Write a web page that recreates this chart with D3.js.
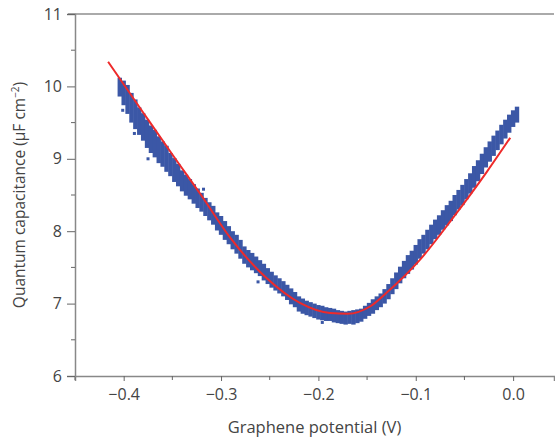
<!DOCTYPE html>
<html>
<head>
<meta charset="utf-8">
<script src="https://cdn.jsdelivr.net/npm/d3@7"></script>
<style>
  body { margin: 0; background: #fff; }
  svg text { font-family: "Open Sans", "Liberation Sans", sans-serif; fill: #444; }
</style>
</head>
<body>
<div id="chart"></div>
<script>
// measured band of the blue data: potential (V), lower and upper edge (uF cm-2)
var potential = [-0.404,-0.400,-0.396,-0.392,-0.388,-0.384,-0.380,-0.376,-0.372,-0.368,-0.364,-0.360,-0.356,-0.352,-0.348,-0.344,-0.340,-0.336,-0.332,-0.328,-0.324,-0.320,-0.316,-0.312,-0.308,-0.304,-0.300,-0.296,-0.292,-0.288,-0.284,-0.280,-0.276,-0.272,-0.268,-0.264,-0.260,-0.256,-0.252,-0.248,-0.244,-0.240,-0.236,-0.232,-0.228,-0.224,-0.220,-0.216,-0.212,-0.208,-0.204,-0.200,-0.196,-0.192,-0.188,-0.184,-0.180,-0.176,-0.172,-0.168,-0.164,-0.160,-0.156,-0.152,-0.148,-0.144,-0.140,-0.136,-0.132,-0.128,-0.124,-0.120,-0.116,-0.112,-0.108,-0.104,-0.100,-0.096,-0.092,-0.088,-0.084,-0.080,-0.076,-0.072,-0.068,-0.064,-0.060,-0.056,-0.052,-0.048,-0.044,-0.040,-0.036,-0.032,-0.028,-0.024,-0.020,-0.016,-0.012,-0.008,-0.004,0.000,0.004];
var capLow = [9.86,9.74,9.62,9.50,9.41,9.33,9.25,9.15,9.08,9.02,8.94,8.89,8.82,8.76,8.68,8.62,8.55,8.49,8.44,8.38,8.32,8.27,8.21,8.15,8.09,8.01,7.95,7.88,7.82,7.75,7.69,7.62,7.55,7.50,7.46,7.42,7.38,7.32,7.27,7.22,7.18,7.14,7.10,7.05,6.99,6.95,6.89,6.86,6.84,6.82,6.80,6.78,6.77,6.76,6.76,6.74,6.73,6.72,6.71,6.72,6.71,6.73,6.75,6.79,6.83,6.86,6.91,6.95,7.00,7.06,7.13,7.20,7.28,7.35,7.41,7.47,7.54,7.62,7.69,7.75,7.82,7.89,7.95,8.02,8.08,8.14,8.22,8.30,8.36,8.44,8.52,8.60,8.69,8.79,8.88,8.96,9.04,9.12,9.20,9.28,9.36,9.44,9.50];
var capHigh = [10.12,10.08,10.02,9.91,9.82,9.71,9.63,9.54,9.46,9.40,9.31,9.24,9.18,9.08,9.01,8.93,8.84,8.78,8.72,8.65,8.59,8.53,8.46,8.40,8.35,8.26,8.21,8.14,8.07,8.00,7.95,7.88,7.79,7.74,7.70,7.65,7.60,7.55,7.49,7.44,7.39,7.35,7.31,7.26,7.21,7.16,7.10,7.07,7.04,7.02,7.00,6.98,6.97,6.95,6.94,6.93,6.91,6.90,6.89,6.90,6.91,6.92,6.93,6.97,7.01,7.06,7.10,7.14,7.20,7.27,7.35,7.43,7.51,7.59,7.67,7.73,7.81,7.89,7.95,8.02,8.09,8.16,8.22,8.29,8.36,8.42,8.50,8.57,8.64,8.72,8.80,8.90,8.98,9.07,9.16,9.24,9.32,9.39,9.47,9.54,9.61,9.67,9.72];

// a few stray blue points outside the band
var strayX = [-0.401, -0.389, -0.375, -0.318, -0.262, -0.196];
var strayY = [9.67, 9.35, 9.00, 8.58, 7.30, 6.74];

// red fitted curve
var fitX = [-0.416, -0.380, -0.350, -0.320, -0.290, -0.253, -0.219, -0.188, -0.170, -0.147, -0.130, -0.096, -0.062, -0.027, -0.003];
var fitY = [10.34, 9.64, 9.06, 8.49, 7.90, 7.35, 7.01, 6.87, 6.86, 6.96, 7.15, 7.60, 8.18, 8.82, 9.29];

var xTicks = [-0.4, -0.3, -0.2, -0.1, 0.0];
var xMinor = [-0.45, -0.35, -0.25, -0.15, -0.05];
var yTicks = [6, 7, 8, 9, 10, 11];
var yMinor = [6.5, 7.5, 8.5, 9.5, 10.5];

var width = 555, height = 441;
var margin = {left: 75, right: 1, top: 14, bottom: 65};

var svg = d3.select("#chart").append("svg")
  .attr("width", width)
  .attr("height", height);

var x = d3.scaleLinear().domain([-0.45, 0.042]).range([margin.left, width - margin.right]);
var y = d3.scaleLinear().domain([6, 11]).range([height - margin.bottom, margin.top]);

// top frame line
svg.append("line")
  .attr("x1", margin.left - 7).attr("x2", width - margin.right)
  .attr("y1", y(11)).attr("y2", y(11))
  .style("stroke", "#aaa").style("stroke-width", 2);

// x axis
var xAxis = svg.append("g")
  .attr("transform", "translate(0," + y(6) + ")")
  .call(d3.axisBottom(x).tickValues(xTicks).tickSize(5).tickPadding(8).tickFormat(d3.format(".1f")));
xAxis.append("g").selectAll("line")
  .data(xMinor).enter().append("line")
  .attr("x1", function(d){ return x(d); }).attr("x2", function(d){ return x(d); })
  .attr("y1", 0).attr("y2", 4);

// y axis
var yAxis = svg.append("g")
  .attr("transform", "translate(" + margin.left + ",0)")
  .call(d3.axisLeft(y).tickValues(yTicks).tickSize(8).tickPadding(5).tickFormat(d3.format("d")));
yAxis.append("g").selectAll("line")
  .data(yMinor).enter().append("line")
  .attr("x1", 0).attr("x2", -4)
  .attr("y1", function(d){ return y(d); }).attr("y2", function(d){ return y(d); });

svg.selectAll(".domain").style("stroke", "#888").style("stroke-width", 1.5);
xAxis.selectAll("line").style("stroke", "#666");
yAxis.selectAll("line").style("stroke", "#666");
svg.selectAll(".tick text").style("font-size", "16px").style("fill", "#444");

// blue data band
var band = potential.map(function(p, i){ return {p: p, lo: capLow[i], hi: capHigh[i]}; });
svg.append("g").selectAll("rect")
  .data(band).enter().append("rect")
  .attr("x", function(d){ return x(d.p) - 2.2; })
  .attr("width", 4.4)
  .attr("y", function(d){ return y(d.hi); })
  .attr("height", function(d){ return y(d.lo) - y(d.hi); })
  .style("fill", "#3b57a6");

svg.append("g").selectAll("rect")
  .data(strayX).enter().append("rect")
  .attr("x", function(d){ return x(d) - 1.5; })
  .attr("y", function(d, i){ return y(strayY[i]) - 1.5; })
  .attr("width", 3).attr("height", 3)
  .style("fill", "#3b57a6");

// red fit
var line = d3.line()
  .x(function(d){ return x(d[0]); })
  .y(function(d){ return y(d[1]); })
  .curve(d3.curveMonotoneX);
svg.append("path")
  .datum(fitX.map(function(v, i){ return [v, fitY[i]]; }))
  .attr("d", line)
  .style("fill", "none")
  .style("stroke", "#ee2a2a")
  .style("stroke-width", 2);

// axis titles
svg.append("text")
  .attr("x", (x.range()[0] + x.range()[1]) / 2)
  .attr("y", 433)
  .attr("text-anchor", "middle")
  .style("font-size", "16.5px")
  .text("Graphene potential (V)");

var ylab = svg.append("text")
  .attr("transform", "translate(25," + y(8.5) + ") rotate(-90)")
  .attr("text-anchor", "middle")
  .style("font-size", "15.5px");
ylab.append("tspan").text("Quantum capacitance (μF cm");
ylab.append("tspan").attr("dy", -6).style("font-size", "10px").text("−2");
ylab.append("tspan").attr("dy", 6).text(")");
</script>
</body>
</html>
